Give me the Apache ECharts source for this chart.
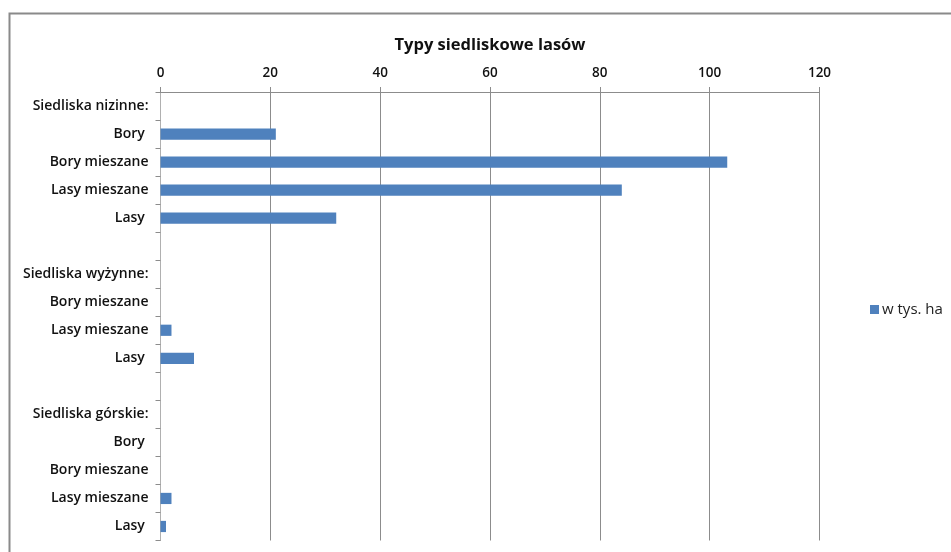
<!DOCTYPE html>
<html>
<head>
<meta charset="utf-8">
<script src="https://cdn.jsdelivr.net/npm/echarts@6/dist/echarts.min.js"></script>
<style>
  html, body { margin: 0; padding: 0; background: #fff; }
  #chart { width: 951px; height: 552px; }
</style>
</head>
<body>
<div id="chart"></div>
<script>
// Forest site types, area in thousand hectares
const categories = [
  'Siedliska nizinne:', 'Bory ', 'Bory mieszane', 'Lasy mieszane', 'Lasy ', '',
  'Siedliska wyżynne:', 'Bory mieszane', 'Lasy mieszane', 'Lasy ', '',
  'Siedliska górskie:', 'Bory ', 'Bory mieszane', 'Lasy mieszane', 'Lasy '
];
const areaValues = [
  null, 21, 103.2, 84, 32, null,
  null, 0, 2, 6.1, null,
  null, 0, 0, 2, 1
];
const xTicks = { min: 0, max: 120, interval: 20 };
const seriesName = 'w tys. ha';
const chartTitle = 'Typy siedliskowe lasów';

const font = '"Open Sans", Lato, sans-serif';
const gridGray = '#8c8c8c';

const chart = echarts.init(document.getElementById('chart'));
chart.setOption({
  animation: false,
  backgroundColor: '#fff',
  graphic: [{
    type: 'rect',
    shape: { x: 9.5, y: 13.5, width: 1000, height: 600 },
    style: { fill: 'none', stroke: '#8a8a8a', lineWidth: 2 },
    silent: true
  }],
  title: {
    text: chartTitle,
    left: 485,
    top: 32,
    textAlign: 'center',
    textStyle: { fontFamily: font, fontSize: 16.5, fontWeight: 'bold', color: '#111' }
  },
  legend: {
    data: [seriesName],
    left: 865,
    top: 297,
    icon: 'rect',
    itemWidth: 9,
    itemHeight: 9,
    itemGap: 4,
    textStyle: { fontFamily: font, fontSize: 15, color: '#222', padding: [0, 0, 0, -2] }
  },
  grid: { left: 160.5, right: 131.5, top: 92, bottom: 11.5 },
  xAxis: {
    type: 'value',
    position: 'top',
    min: xTicks.min,
    max: xTicks.max,
    interval: xTicks.interval,
    axisLine: { show: true, lineStyle: { color: gridGray, width: 1 } },
    axisTick: { show: true, length: 5, lineStyle: { color: gridGray } },
    axisLabel: { margin: 12, fontFamily: font, fontSize: 13.5, fontWeight: 600, color: '#111' },
    splitLine: { show: true, lineStyle: { color: gridGray, width: 1 } }
  },
  yAxis: {
    type: 'category',
    inverse: true,
    data: categories,
    axisLine: { show: true, lineStyle: { color: '#b0b0b0', width: 1 } },
    axisTick: { show: true, length: 5, lineStyle: { color: gridGray } },
    axisLabel: { margin: 12, fontFamily: font, fontSize: 14, fontWeight: 600, color: '#111' }
  },
  series: [{
    name: seriesName,
    type: 'bar',
    data: areaValues,
    barWidth: '40%',
    itemStyle: { color: '#4f81bd' }
  }]
});
</script>
</body>
</html>
